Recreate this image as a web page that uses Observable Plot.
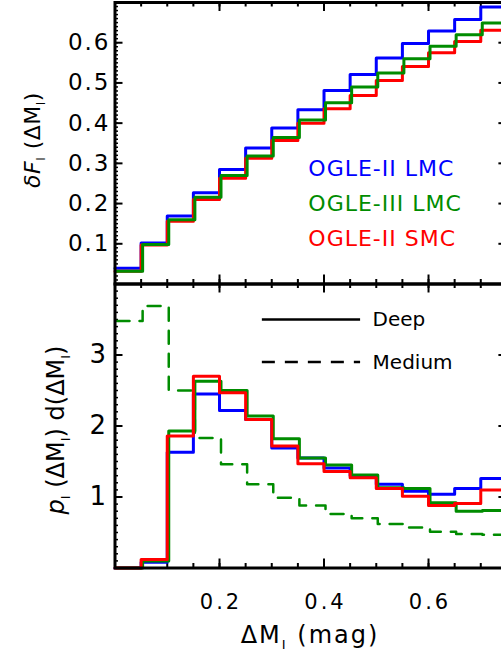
<!DOCTYPE html>
<html><head><meta charset="utf-8">
<script src="https://cdn.jsdelivr.net/npm/d3@7"></script>
<script src="https://cdn.jsdelivr.net/npm/@observablehq/plot@0.6"></script>
<style>
body{margin:0;background:#fff;}
#chart{position:relative;width:501px;height:655px;overflow:hidden;background:#fff;}
#chart svg{position:absolute;left:0;top:0;}
</style></head><body><div id="chart"></div>
<script>
// ---- data ----
const binEdges = [0,0.05,0.10,0.15,0.20,0.25,0.30,0.35,0.40,0.45,0.50,0.55,0.60,0.65,0.70,0.75];
const seriesNames = ["OGLE-II LMC","OGLE-III LMC","OGLE-II SMC"];
const seriesColors = ["#0000ff","#008c00","#ff0000"];
// top panel: dF_I
const topBlue  = [0.039,0.102,0.169,0.227,0.285,0.338,0.388,0.433,0.481,0.521,0.562,0.598,0.629,0.658,0.689];
const topGreen = [0.032,0.098,0.160,0.216,0.270,0.318,0.364,0.408,0.451,0.490,0.525,0.560,0.591,0.620,0.649];
const topRed   = [0.032,0.097,0.156,0.210,0.263,0.313,0.357,0.400,0.436,0.469,0.506,0.541,0.575,0.603,0.631];
// bottom panel: p_I
const botBlue  = [0,0.08,1.63,2.45,2.22,2.09,1.69,1.55,1.41,1.30,1.18,1.08,1.04,1.12,1.26];
const botGreen = [0,0.10,1.93,2.63,2.50,2.14,1.82,1.55,1.45,1.31,1.13,1.12,0.92,0.80,0.81];
const botRed   = [0,0.12,1.86,2.70,2.47,2.09,1.72,1.47,1.36,1.27,1.12,1.01,0.88,0.91,1.10];
const botGreenMedium = [3.48,3.69,2.50,1.83,1.46,1.18,0.99,0.88,0.76,0.70,0.62,0.57,0.51,0.48,0.47];
const legendStyles = ["Deep","Medium"];
const xTickLabels = [0.2,0.4,0.6];
const yTickLabelsTop = [0.1,0.2,0.3,0.4,0.5,0.6];
const yTickLabelsBot = [1,2,3];

// ---- helpers ----
const steps = vals => binEdges.map((x,i) => ({x, y: vals[Math.min(i, vals.length-1)]}));
const W = 501, H = 655;
const mL = 114.5, mR = -5.4;
const frameW = W - mL - mR;
const font = "DejaVu Sans";
const xMinor = d3.range(0, 0.7501, 0.05);
const xMajor = xTickLabels;
const DASH = "13,10";

function ticksFor(yMajor, yMinor, panelH){
  return [
    Plot.tickY(yMajor, {y: d=>d, insetRight: frameW-8, strokeWidth: 2}),
    Plot.tickY(yMinor, {y: d=>d, insetRight: frameW-3.5, strokeWidth: 1.5}),
    Plot.tickY(yMajor, {y: d=>d, insetLeft: frameW-8, strokeWidth: 2}),
    Plot.tickY(yMinor, {y: d=>d, insetLeft: frameW-3.5, strokeWidth: 1.5}),
    Plot.tickX(xMinor, {x: d=>d, insetTop: panelH-4.5, strokeWidth: 2}),
    Plot.tickX(xMinor, {x: d=>d, insetBottom: panelH-4.5, strokeWidth: 2}),
    Plot.tickX(xMajor, {x: d=>d, insetTop: panelH-9, strokeWidth: 2}),
    Plot.tickX(xMajor, {x: d=>d, insetBottom: panelH-9, strokeWidth: 2})
  ];
}

// ---- top panel ----
const topMT = 2, topMB = H - 283.5;
const topH = H - topMT - topMB;
const topPlot = Plot.plot({
  width: W, height: H,
  marginLeft: mL, marginRight: mR, marginTop: topMT, marginBottom: topMB,
  style: {background: "transparent", fontFamily: font, maxWidth: "none"},
  x: {domain: [0, 0.75], axis: null},
  y: {domain: [0, 0.7], axis: null},
  marks: [
    ...ticksFor(yTickLabelsTop, d3.range(0, 0.7001, 0.01), topH),
    Plot.line(steps(topBlue), {x:"x", y:"y", curve:"step-after", stroke: seriesColors[0], strokeWidth: 3}),
    Plot.line(steps(topRed), {x:"x", y:"y", curve:"step-after", stroke: seriesColors[2], strokeWidth: 3}),
    Plot.line(steps(topGreen), {x:"x", y:"y", curve:"step-after", stroke: seriesColors[1], strokeWidth: 3, dx: 1.5}),
    Plot.text(yTickLabelsTop, {y: d=>d, text: d=>d.toFixed(1), frameAnchor: "left", textAnchor: "end", dx: -4.5, fontSize: 23, ariaDescription: "yticktop"}),
    Plot.text(seriesNames, {x: () => 0.37, y: (d,i) => [0.287, 0.200, 0.111][i], text: d=>d, fill: (d,i)=>seriesColors[i], textAnchor: "start", fontSize: 22, ariaDescription: "legendtext"}),
    Plot.frame({stroke: "black", strokeWidth: 3})
  ]
});

// ---- bottom panel ----
const botMT = 283.5, botMB = H - 567.5;
const botH = H - botMT - botMB;
const botPlot = Plot.plot({
  width: W, height: H,
  marginLeft: mL, marginRight: mR, marginTop: botMT, marginBottom: botMB,
  style: {background: "transparent", fontFamily: font, maxWidth: "none"},
  x: {domain: [0, 0.75], axis: null},
  y: {domain: [0, 4], axis: null},
  marks: [
    ...ticksFor(yTickLabelsBot, d3.range(0, 4.001, 0.1), botH),
    Plot.line(steps(botGreenMedium), {x:"x", y:"y", curve:"step-after", stroke: seriesColors[1], strokeWidth: 2.5, strokeDasharray: DASH, dx: 1.5}),
    Plot.line(steps(botBlue), {x:"x", y:"y", curve:"step-after", stroke: seriesColors[0], strokeWidth: 3}),
    Plot.line(steps(botGreen), {x:"x", y:"y", curve:"step-after", stroke: seriesColors[1], strokeWidth: 3, dx: 1.5}),
    Plot.line(steps(botRed), {x:"x", y:"y", curve:"step-after", stroke: seriesColors[2], strokeWidth: 3}),
    // legend
    Plot.ruleY(legendStyles.slice(0,1), {y: () => 3.5, x1: 0.282, x2: 0.470, stroke: "black", strokeWidth: 2.5}),
    Plot.ruleY(legendStyles.slice(1,2), {y: () => 2.9, x1: 0.282, x2: 0.470, stroke: "black", strokeWidth: 2.5, strokeDasharray: DASH}),
    Plot.text(legendStyles, {x: () => 0.493, y: (d,i) => [3.5, 2.9][i], text: d=>d, textAnchor: "start", fontSize: 20}),
    Plot.text(yTickLabelsBot, {y: d=>d, text: d=>String(d), frameAnchor: "left", textAnchor: "end", dx: -9, fontSize: 26}),
    Plot.text(xTickLabels, {x: d=>d, text: d=>d.toFixed(1), frameAnchor: "bottom", lineAnchor: "middle", dy: 34, dx: 1.5, fontSize: 21, ariaDescription: "xtick"}),
    Plot.frame({stroke: "black", strokeWidth: 3})
  ]
});

const chart = document.getElementById("chart");
chart.appendChild(topPlot);
chart.appendChild(botPlot);

d3.selectAll("#chart g[aria-description='yticktop'] text").style("letter-spacing", "2px");
d3.selectAll("#chart g[aria-description='xtick'] text").style("letter-spacing", "3px");
d3.selectAll("#chart g[aria-description='legendtext'] text").style("letter-spacing", "1px");

// axis titles with subscripts
const svg = d3.select(botPlot);
function label(g, parts, size, sub, ls){
  const t = g.append("text").attr("font-family", font).attr("font-size", size).attr("fill", "black")
    .attr("text-anchor", "middle").style("letter-spacing", ls + "px");
  const sh = Math.round(size * 0.23);
  parts.forEach(p => {
    const s = t.append("tspan").text(p.t);
    if (p.it) s.attr("font-style", "italic");
    if (p.sub) s.attr("font-size", sub).attr("dy", sh);
    if (p.back) s.attr("dy", -sh);
  });
  return t;
}
label(svg, [{t:"ΔM"},{t:"I",sub:true},{t:" (mag)",back:true}], 24, 13, 2)
  .attr("transform", "translate(310,643)");
label(svg, [{t:"δ",it:true},{t:"F",it:true},{t:"I",sub:true},{t:" (ΔM",back:true},{t:"I",sub:true},{t:")",back:true}], 22, 12, 0.5)
  .attr("transform", "translate(40,140) rotate(-90)");
label(svg, [{t:"p",it:true},{t:"I",sub:true},{t:" (ΔM",back:true},{t:"I",sub:true},{t:") d(ΔM",back:true},{t:"I",sub:true},{t:")",back:true}], 24, 13, 0)
  .attr("transform", "translate(64,430) rotate(-90)");
</script></body></html>
